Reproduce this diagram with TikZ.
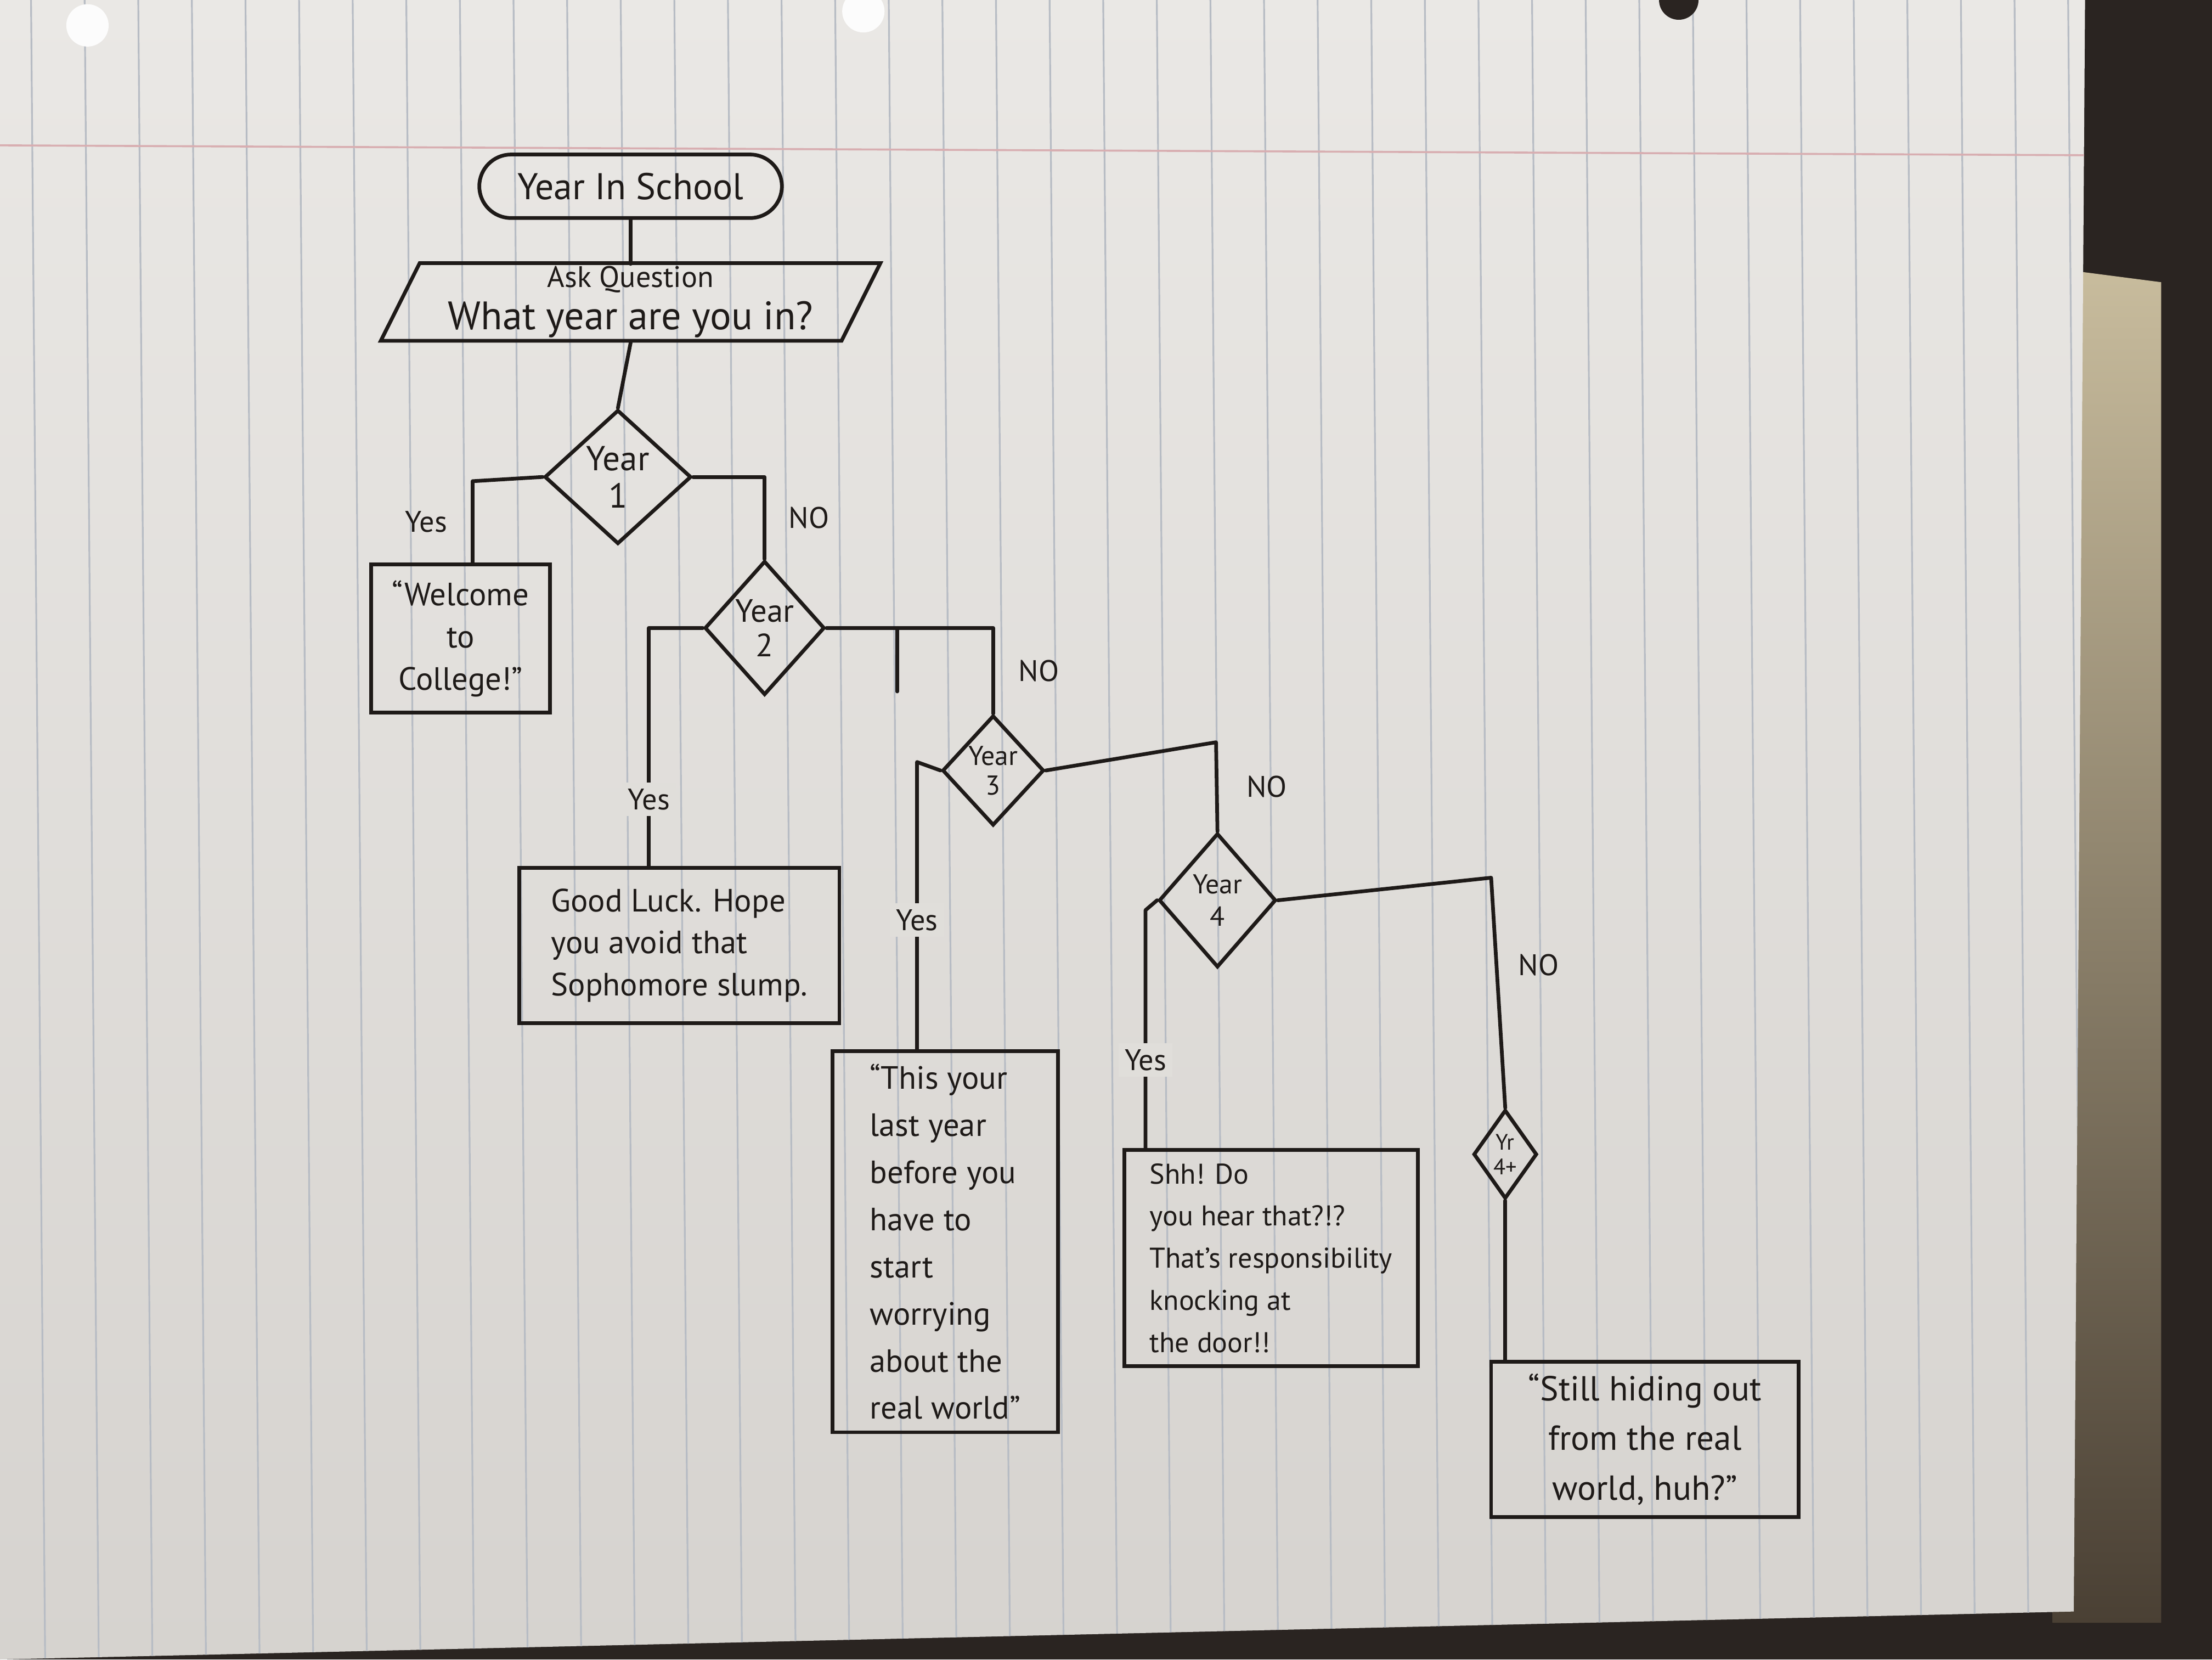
\documentclass[tikz,border=0pt]{standalone}
\usepackage{fontspec}
\setmainfont{PT Sans}
\usepackage{tikz}
\usetikzlibrary{positioning,shapes.geometric,shapes.misc}
\definecolor{ink}{HTML}{1E1A18}
\definecolor{paper}{HTML}{E0DEDA}
\definecolor{paperhi}{HTML}{EAE8E5}
\definecolor{paperlo}{HTML}{D6D3CF}
\definecolor{rule}{HTML}{B7BCC4}
\definecolor{margin}{HTML}{D8AEB1}
\definecolor{desk}{HTML}{2A2421}
\definecolor{card}{HTML}{C8BC9D}
\definecolor{cardlo}{HTML}{4A4034}
\tikzset{
  % --- flowchart blocks ------------------------------------------------------
  term/.style={rounded rectangle,draw=ink,line width=1.5pt,minimum width=43.6mm,
               minimum height=9mm,inner sep=1pt,text=ink,font=\fontsize{15}{18}\selectfont},
  io/.style={trapezium,trapezium left angle=66,trapezium right angle=114,
             trapezium stretches=true,draw=ink,line width=1.5pt,minimum width=71mm,
             minimum height=11mm,inner sep=1pt,align=center,text=ink,
             font=\fontsize{16}{17}\selectfont},
  dec/.style={diamond,draw=ink,line width=1.5pt,inner sep=0pt},
  dtxt/.style={align=center,text=ink,inner sep=0pt},
  msg/.style={rectangle,draw=ink,line width=1.5pt,inner sep=2pt,align=left,text=ink},
  % --- connectors and their labels -------------------------------------------
  flow/.style={draw=ink,line width=1.5pt,line cap=round,line join=round},
  lbl/.style={font=\fontsize{12}{14}\selectfont,text=ink,inner sep=1pt},
  lblon/.style={lbl,fill=paper,inner sep=2.5pt},
}
\begin{document}
\begin{tikzpicture}[x=0.2mm, y=-0.2mm]
  \useasboundingbox (0,0) rectangle (1568,1176);

  % the sheet on the desk
  \fill[desk] (0,0) rectangle (1568,1176);
  \shade[top color=card,bottom color=cardlo]
    (1455,190) -- (1532,200) -- (1532,1150) -- (1455,1150) -- cycle;
  \begin{scope}
    \clip (0,0) -- (1478,0) -- (1470,1142) -- (0,1176) -- cycle;
    \shade[top color=paperhi,bottom color=paperlo] (0,0) rectangle (1568,1176);
    \foreach \k in {0,...,38}
      \draw[rule,line width=0.7pt] ({22+38*\k},0) -- ({32+38*\k},1176);
    \draw[margin,line width=0.8pt] (0,103) -- (1478,110);
  \end{scope}
  \fill[white!92!paper] (62,18) circle[radius=15];
  \fill[white!92!paper] (612,8) circle[radius=15];
  \fill[desk] (1190,0) circle[radius=14];

  % blocks
  \node[term] (start) at (447,132) {Year In School};
  \node[io] (ask) at (447,214) {{\fontsize{12}{14}\selectfont Ask Question}\\What year are you in?};
  \coordinate (asktop) at (447,187);

  \node[dec,minimum width=20.8mm,minimum height=19mm,
        label={[dtxt,font=\fontsize{14}{15}\selectfont]center:{Year\\1}}] (y1) at (438,338) {};
  \node[dec,minimum width=17mm,minimum height=19mm,
        label={[dtxt,font=\fontsize{13}{14}\selectfont]center:{Year\\2}}] (y2) at (542,445) {};
  \node[dec,minimum width=14.4mm,minimum height=15.6mm,
        label={[dtxt,font=\fontsize{11}{12}\selectfont]center:{Year\\3}}] (y3) at (704,546) {};
  \node[dec,minimum width=16.6mm,minimum height=19mm,
        label={[dtxt,font=\fontsize{11}{13}\selectfont]center:{Year\\4}}] (y4) at (863,638) {};
  \node[dec,minimum width=9mm,minimum height=12.6mm,
        label={[dtxt,font=\fontsize{9}{10}\selectfont]center:{Yr\\4+}}] (y5) at (1067,818) {};

  \node[msg,minimum width=25.4mm,minimum height=21mm,align=center,
        font=\fontsize{13}{17}\selectfont] (welcome) at (326.5,452.5)
        {``Welcome\\to\\College!''};
  \node[msg,minimum width=45.4mm,minimum height=22mm,
        font=\fontsize{13}{17}\selectfont] (luck) at (481.5,670)
        {Good Luck. Hope\\you avoid that\\Sophomore slump.};
  \node[msg,minimum width=32mm,minimum height=54mm,
        font=\fontsize{13}{19}\selectfont] (last) at (670,880)
        {``This your\\last year\\before you\\have to\\start\\worrying\\about the\\real world''};
  \node[msg,minimum width=41.6mm,minimum height=30.6mm,
        font=\fontsize{11.5}{17}\selectfont] (shh) at (901,891.5)
        {Shh! Do\\you hear that?!?\\That's responsibility\\knocking at\\the door!!};
  \node[msg,minimum width=43.6mm,minimum height=22mm,align=center,
        font=\fontsize{14}{20}\selectfont] (hide) at (1166,1020)
        {``Still hiding out\\from the real\\world, huh?''};

  % connectors
  \draw[flow] (start.south) -- (asktop);
  \draw[flow] (ask.south) -- (y1.north);

  \coordinate (y1yes) at (335,341);
  \draw[flow] (y1.west) -- (y1yes) -- node[lbl,left=3mm] {Yes} (y1yes |- welcome.north);
  \draw[flow] (y1.east) -| node[lbl,pos=0.75,right=2.8mm] {NO} (y2.north);

  \coordinate (y2yes) at (460,445);
  \draw[flow] (y2.west) -- (y2yes) -- node[lblon,pos=0.72] {Yes} (y2yes |- luck.north);
  \draw[flow] (y2.east) -| node[lbl,pos=0.75,right=3mm] {NO} (y3.north);
  \coordinate (tick) at (636,445);
  \draw[flow] (tick) -- ++(0,45);

  \coordinate (y3yes) at (650,540);
  \draw[flow] (y3.west) -- (y3yes) -- node[lblon,pos=0.55] {Yes} (y3yes |- last.north);
  \coordinate (y3no) at (862,526);
  \draw[flow] (y3.east) -- (y3no) -- node[lbl,right=3.6mm] {NO} (y4.north);

  \coordinate (y4yes) at (812,645);
  \draw[flow] (y4.west) -- (y4yes) -- node[lblon,pos=0.63] {Yes} (y4yes |- shh.north);
  \coordinate (y4no) at (1057,622);
  \draw[flow] (y4.east) -- (y4no) -- node[lbl,pos=0.38,right=2.5mm] {NO} (y5.north);

  \draw[flow] (y5.south) -- (y5.south |- hide.north);
\end{tikzpicture}
\end{document}
